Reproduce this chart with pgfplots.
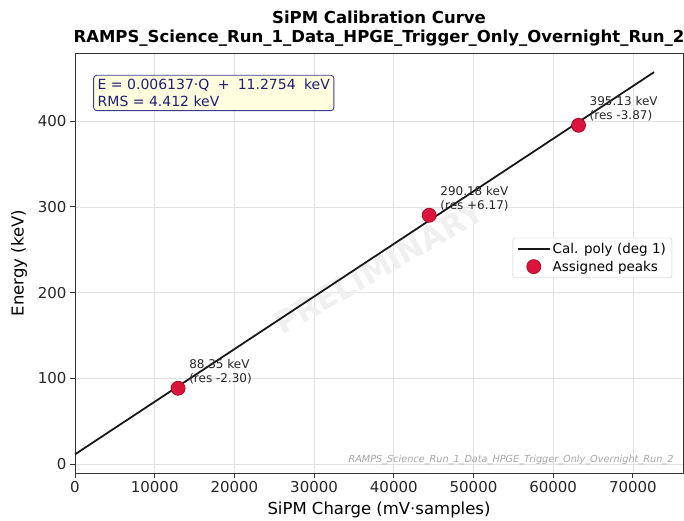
\documentclass[border=0pt]{standalone}
\usepackage{fontspec}
\setmainfont{DejaVu Sans}
\usepackage{pgfplots}
\pgfplotsset{compat=1.18}
\definecolor{cPeak}{RGB}{220,20,60}
\definecolor{cPeakEdge}{RGB}{170,10,40}
\definecolor{cNavy}{RGB}{30,30,120}
\definecolor{cBoxEdge}{RGB}{60,60,140}
\definecolor{cBoxFill}{RGB}{255,255,224}
\definecolor{cGrid}{RGB}{225,225,225}
\tikzset{annot/.style={anchor=south west, align=left, inner sep=0pt,
    font=\fontsize{12}{14}\selectfont, text=black!85, xshift=11pt, yshift=4pt}}
\pgfplotsset{
  lineleg/.style={legend image code/.code={\draw[##1] (0pt,0pt) -- (32pt,0pt);}},
  markleg/.style={legend image code/.code={\draw[##1] plot coordinates {(16pt,0pt)};}},
}
\begin{document}
\begin{tikzpicture}
\begin{axis}[
  scale only axis,
  width=608pt, height=420pt,
  xmin=0, xmax=76288,
  ymin=-10.5, ymax=479.5,
  xtick={0,10000,...,70000},
  ytick={0,100,...,400},
  scaled ticks=false,
  /pgf/number format/1000 sep={},
  /pgf/number format/assume math mode=true,
  tick label style={font=\fontsize{15}{18}\selectfont, color=black!85},
  label style={font=\fontsize{16.5}{20}\selectfont},
  xlabel={SiPM Charge (mV·samples)},
  ylabel={Energy (keV)},
  xlabel style={yshift=-2pt},
  ylabel style={yshift=4pt},
  tick align=outside,
  tick pos=left,
  major tick length=5pt,
  tick style={black!80, line width=0.8pt},
  grid=major,
  major grid style={draw=cGrid, line width=0.6pt},
  axis line style={black!80, line width=0.9pt},
  title style={font=\bfseries\fontsize{16.5}{19}\selectfont, align=center, yshift=-3pt},
  title={SiPM Calibration Curve\\RAMPS\_Science\_Run\_1\_Data\_HPGE\_Trigger\_Only\_Overnight\_Run\_2},
  legend style={at={(rel axis cs:0.982,0.56)}, anchor=north east,
    font=\fontsize{13.5}{16}\selectfont, draw=black!20, rounded corners=2pt,
    inner xsep=4pt, inner ysep=3pt, row sep=2pt},
  legend cell align=left,
  clip=false,
]
% watermark
\node[rotate=30, font=\bfseries\fontsize{31}{34}\selectfont, text=black!6]
  at (rel axis cs:0.5,0.49) {PRELIMINARY};

\addplot[black!90, line width=1.8pt, lineleg]
  coordinates {(0,11.2754) (72655,457.16)};
\addlegendentry{Cal. poly (deg 1)}

\addplot[only marks, mark=*, mark size=7pt, mark options={fill=cPeak, draw=cPeakEdge, line width=0.8pt}, markleg]
  coordinates {(12934,88.35) (44442,290.18) (63178,395.13)};
\addlegendentry{Assigned peaks}

\node[annot] at (axis cs:12934,88.35) {88.35 keV\\(res -2.30)};
\node[annot] at (axis cs:44442,290.18) {290.18 keV\\(res +6.17)};
\node[annot] at (axis cs:63178,395.13) {395.13 keV\\(res -3.87)};

\node[anchor=north west, align=left, draw=cBoxEdge, fill=cBoxFill, rounded corners=3pt,
  line width=0.9pt, text=cNavy, font=\fontsize{14}{16.5}\selectfont,
  inner xsep=4pt, inner ysep=4pt]
  at (rel axis cs:0.03,0.948) {E = 0.006137·Q \;+\; 11.2754 \;keV\\RMS = 4.412 keV};

\node[anchor=south east, font=\itshape\fontsize{9.7}{11}\selectfont, text=black!35]
  at (rel axis cs:0.99,0.012) {RAMPS\_Science\_Run\_1\_Data\_HPGE\_Trigger\_Only\_Overnight\_Run\_2};
\end{axis}
\pgfresetboundingbox
\path[use as bounding box] (-75pt,-48pt) rectangle (609pt,473pt);
\end{tikzpicture}
\end{document}
